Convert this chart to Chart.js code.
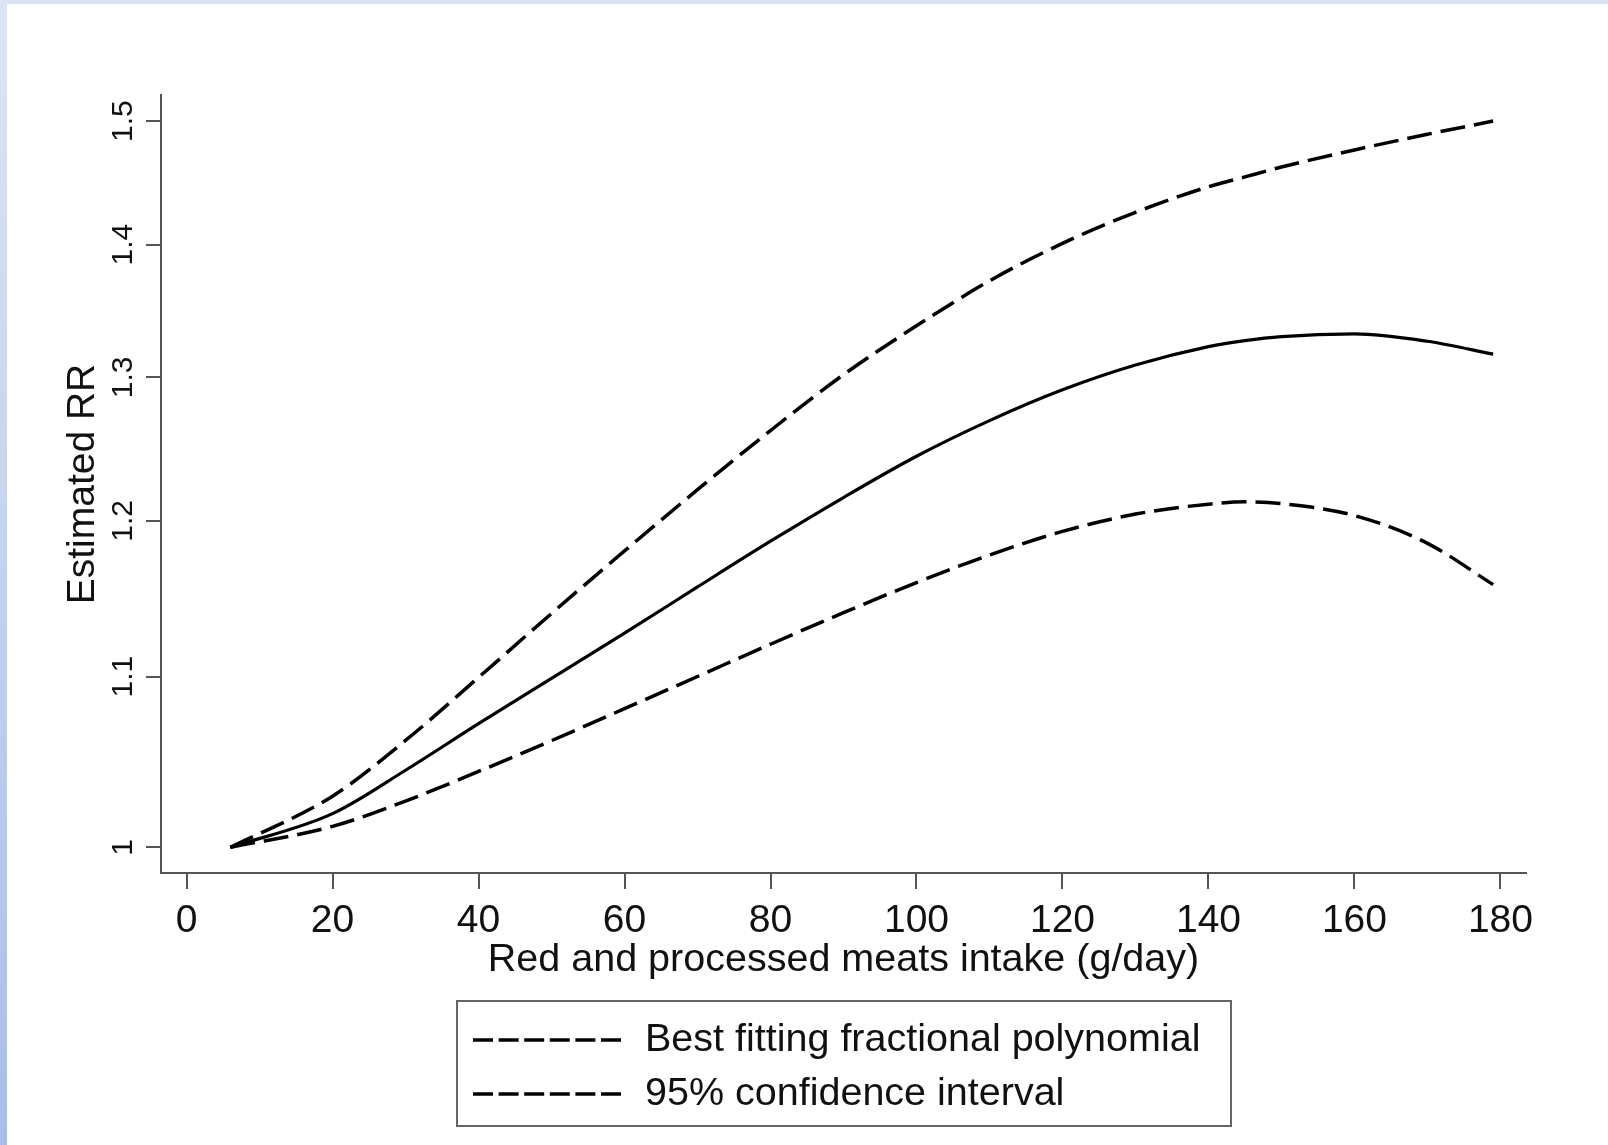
<!DOCTYPE html>
<html>
<head>
<meta charset="utf-8">
<title>Estimated RR</title>
<script src="https://cdn.jsdelivr.net/npm/chart.js@4"></script>
<style>
  html, body { margin: 0; padding: 0; background: #fff; }
  #wrap { position: relative; width: 1608px; height: 1145px; overflow: hidden; }
  #topbar { position: absolute; left: 0; top: 0; width: 1608px; height: 4px; background: #dae3f4; }
  #leftbar { position: absolute; left: 0; top: 0; width: 7px; height: 1145px;
    background: linear-gradient(to bottom, #dce5f5, #a8bee9); }
  canvas { position: absolute; left: 0; top: 0; }
</style>
</head>
<body>
<div id="wrap">
  <canvas id="chart" width="1608" height="1145"></canvas>
  <div id="topbar"></div>
  <div id="leftbar"></div>
</div>
<script>
const intake = [6, 20, 30, 40, 50, 60, 70, 80, 90, 100, 110, 120, 130, 140, 145, 150, 160, 170, 179];

// estimated RR
const bestFit = [1.0, 1.019, 1.044, 1.0715, 1.099, 1.127, 1.1565, 1.1864, 1.2157, 1.244, 1.269, 1.291, 1.309, 1.3225, 1.327, 1.330, 1.332, 1.3265, 1.317];
const upperCI = [1.0, 1.029, 1.0615, 1.0995, 1.1395, 1.180, 1.221, 1.262, 1.302, 1.338, 1.372, 1.401, 1.4255, 1.446, 1.454, 1.462, 1.476, 1.489, 1.500];
const lowerCI = [1.0, 1.0118, 1.0262, 1.0433, 1.0614, 1.0805, 1.1001, 1.1201, 1.140, 1.1593, 1.1773, 1.1929, 1.2045, 1.2112, 1.2128, 1.2115, 1.2035, 1.185, 1.158];

const xTicks = [0, 20, 40, 60, 80, 100, 120, 140, 160, 180];
const yTicks = [1, 1.1, 1.2, 1.3, 1.4, 1.5];
const yTickLabels = ['1', '1.1', '1.2', '1.3', '1.4', '1.5'];
const legendLabels = ['Best fitting fractional polynomial', '95% confidence interval'];

const FONT = '"Liberation Sans", Arial, Helvetica, sans-serif';
const pts = ys => intake.map((x, i) => ({x: x, y: ys[i]}));

const dashed = [25, 9];

// legend box under the x title (both entries drawn dashed, as in the figure)
const boxLegend = {
  id: 'boxLegend',
  afterDraw(chart) {
    const ctx = chart.ctx;
    ctx.save();
    ctx.strokeStyle = '#666';
    ctx.lineWidth = 2;
    ctx.strokeRect(457, 1001, 774, 125);
    ctx.font = '39.5px ' + FONT;
    ctx.fillStyle = '#111';
    ctx.textBaseline = 'middle';
    ctx.textAlign = 'left';
    const rows = [1040, 1094];
    legendLabels.forEach((txt, i) => {
      ctx.beginPath();
      ctx.setLineDash([20, 5.6]);
      ctx.lineWidth = 3.5;
      ctx.strokeStyle = '#000';
      ctx.moveTo(473, rows[i]);
      ctx.lineTo(621, rows[i]);
      ctx.stroke();
      ctx.setLineDash([]);
      ctx.fillText(txt, 645, rows[i]);
    });
    ctx.restore();
  }
};

const whiteBg = {
  id: 'whiteBg',
  beforeDraw(chart) {
    const ctx = chart.ctx;
    ctx.save();
    ctx.fillStyle = '#fff';
    ctx.fillRect(0, 0, chart.width, chart.height);
    ctx.restore();
  }
};

new Chart(document.getElementById('chart'), {
  type: 'line',
  data: {
    datasets: [
      { label: legendLabels[0], data: pts(bestFit), borderColor: '#000', borderWidth: 3.2 },
      { label: legendLabels[1], data: pts(upperCI), borderColor: '#000', borderWidth: 3.5, borderDash: dashed },
      { label: legendLabels[1], data: pts(lowerCI), borderColor: '#000', borderWidth: 3.5, borderDash: dashed }
    ]
  },
  options: {
    responsive: false,
    devicePixelRatio: 1,
    animation: false,
    layout: { padding: { top: 95, right: 82, left: 0, bottom: 0 } },
    elements: {
      point: { radius: 0 },
      line: { fill: false, cubicInterpolationMode: 'monotone' }
    },
    plugins: {
      legend: { display: false },
      tooltip: { enabled: false }
    },
    scales: {
      x: {
        type: 'linear',
        min: -3.5,
        max: 183.5,
        afterBuildTicks: s => { s.ticks = xTicks.map(v => ({value: v})); },
        afterFit: s => { s.height = 272; },
        grid: { drawOnChartArea: false, tickLength: 16, color: '#555', lineWidth: 2 },
        border: { color: '#555', width: 2 },
        ticks: { font: { family: FONT, size: 39 }, color: '#111', padding: 9, maxRotation: 0, callback: v => String(v) },
        title: {
          display: true,
          text: 'Red and processed meats intake (g/day)',
          font: { family: FONT, size: 39.5 },
          color: '#111',
          padding: { top: 0, bottom: 161 }
        }
      },
      y: {
        type: 'logarithmic',
        min: 0.9858,
        max: 1.522,
        afterBuildTicks: s => { s.ticks = yTicks.map(v => ({value: v})); },
        afterFit: s => { s.width = 161; },
        grid: { drawOnChartArea: false, tickLength: 15, color: '#555', lineWidth: 2 },
        border: { color: '#555', width: 2 },
        ticks: {
          font: { family: FONT, size: 30 },
          color: '#111',
          padding: 1,
          minRotation: 90,
          maxRotation: 90,
          crossAlign: 'center',
          callback: (v, i) => yTickLabels[i]
        },
        title: {
          display: true,
          text: 'Estimated RR',
          font: { family: FONT, size: 39 },
          color: '#111',
          padding: { top: 60, bottom: 0 }
        }
      }
    }
  },
  plugins: [whiteBg, boxLegend]
});
</script>
</body>
</html>
